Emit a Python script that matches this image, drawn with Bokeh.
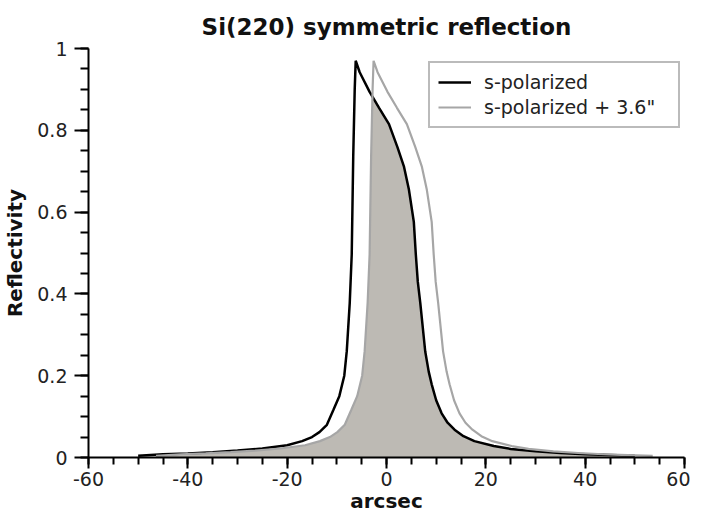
import numpy as np
from bokeh.plotting import figure
from bokeh.models import FixedTicker, Legend, LegendItem, Range1d
from bokeh.embed import file_html
from bokeh.resources import INLINE

# ---- data ----
s_x = [-50, -45, -40, -35, -30, -25, -20, -17, -15, -13.5, -12, -10.7, -9.5, -8.5,
       -8.0, -7.4, -7.0, -6.7, -6.4, -6.2, -5.4, -3.4, -1.5, 0.5, 2.2, 3.5, 4.5,
       5.5, 5.9, 6.3, 6.8, 7.8, 8.5, 9.1, 10.0, 11.1, 12.3, 13.7, 15.5, 17.7,
       21.6, 25, 30, 35, 40, 45, 50]
s_y = [0.004, 0.008, 0.010, 0.013, 0.017, 0.022, 0.030, 0.040, 0.050, 0.062,
       0.080, 0.116, 0.150, 0.200, 0.260, 0.378, 0.497, 0.735, 0.900, 0.970,
       0.942, 0.894, 0.855, 0.815, 0.759, 0.712, 0.656, 0.576, 0.497, 0.430,
       0.378, 0.259, 0.210, 0.179, 0.140, 0.108, 0.085, 0.068, 0.052, 0.040,
       0.028, 0.021, 0.015, 0.011, 0.008, 0.006, 0.004]

sh_x = [-46.4, -41.4, -36.4, -31.4, -26.4, -21.4, -16.4, -13.4, -11.4, -9.9, -8.4,
        -7.1, -5.9, -4.9, -4.4, -3.8, -3.4, -3.1, -2.8, -2.6, -1.8, 0.2, 2.1, 4.1,
        5.8, 7.1, 8.1, 9.1, 9.5, 9.9, 10.4, 11.4, 12.1, 12.7, 13.6, 14.7, 15.9,
        17.3, 19.1, 21.3, 25.2, 28.6, 33.6, 38.6, 43.6, 48.6, 53.6]
sh_y = list(s_y)

series_labels = ["s-polarized", "s-polarized + 3.6\""]
x_ticks = [-60, -40, -20, 0, 20, 40, 60]
x_tick_labels = ["-60", "-40", "-20", "0", "20", "40", "60"]
y_ticks = [0, 0.2, 0.4, 0.6, 0.8, 1.0]
y_tick_labels = ["0", "0.2", "0.4", "0.6", "0.8", "1"]

FONT = "DejaVu Sans"

p = figure(width=690, height=515, output_backend="svg",
           toolbar_location=None,
           x_range=Range1d(-60, 60), y_range=Range1d(0, 1),
           min_border_left=80, min_border_right=6, min_border_top=48,
           min_border_bottom=50, title="Si(220) symmetric reflection")
p.outline_line_color = None
p.grid.visible = False
p.background_fill_color = "white"
p.border_fill_color = "white"

p.title.text_font = FONT
p.title.text_font_size = "23px"
p.title.text_font_style = "bold"
p.title.align = "center"
p.title.text_color = "#111111"
p.title.text_line_height = 0.7
p.title.standoff = 18

# overlap fill (minimum of both curves)
lo = max(min(s_x), min(sh_x))
hi = min(max(s_x), max(sh_x))
grid = np.unique(np.concatenate([np.array(s_x, float), np.array(sh_x, float)]))
grid = grid[(grid >= lo) & (grid <= hi)]
fill_top = np.minimum(np.interp(grid, s_x, s_y), np.interp(grid, sh_x, sh_y))
p.varea(x=grid, y1=np.zeros_like(grid), y2=fill_top, fill_color="#bdbab4")

r1 = p.line(s_x, s_y, line_color="#000000", line_width=2.5)
r2 = p.line(sh_x, sh_y, line_color="#a6a6a6", line_width=2.2)

legend = Legend(items=[LegendItem(label=series_labels[0], renderers=[r1]),
                       LegendItem(label=series_labels[1], renderers=[r2])],
                location=(340, 329))
legend.label_text_font = FONT
legend.label_text_font_size = "19px"
legend.label_text_color = "#222222"
legend.padding = 8
legend.spacing = 3
legend.glyph_width = 33
legend.glyph_height = 22
legend.label_height = 22
legend.label_width = 186
legend.label_standoff = 13
legend.border_line_color = "#777777"
legend.border_line_width = 2
legend.background_fill_color = "white"
legend.background_fill_alpha = 1
legend.margin = 0
p.add_layout(legend, "center")

xa = p.xaxis[0]
xa.ticker = FixedTicker(ticks=x_ticks, minor_ticks=list(range(-60, 61, 5)))
xa.major_label_overrides = {t: l for t, l in zip(x_ticks, x_tick_labels)}
xa.axis_label = "arcsec"
xa.major_tick_out = 11
xa.major_tick_in = 0
xa.minor_tick_out = 7
xa.minor_tick_in = 0
xa.major_label_standoff = 3
xa.axis_label_standoff = 0

ya = p.yaxis[0]
ya.ticker = FixedTicker(ticks=y_ticks, minor_ticks=[i * 0.05 for i in range(21)])
ya.major_label_overrides = {t: l for t, l in zip(y_ticks, y_tick_labels)}
ya.axis_label = "Reflectivity"
ya.major_tick_out = 14
ya.major_tick_in = 0
ya.minor_tick_out = 8
ya.minor_tick_in = 0
ya.major_label_standoff = 7
ya.axis_label_standoff = 7

for ax in (xa, ya):
    ax.axis_line_width = 2
    ax.axis_line_color = "#000000"
    ax.major_tick_line_width = 2
    ax.minor_tick_line_width = 2
    ax.major_tick_line_color = "#000000"
    ax.minor_tick_line_color = "#000000"
    ax.major_label_text_font = FONT
    ax.major_label_text_font_size = "19px"
    ax.major_label_text_color = "#222222"
    ax.axis_label_text_font = FONT
    ax.axis_label_text_font_size = "20px"
    ax.axis_label_text_font_style = "bold"
    ax.axis_label_text_color = "#111111"

open("out.html", "w").write(file_html(p, INLINE))
